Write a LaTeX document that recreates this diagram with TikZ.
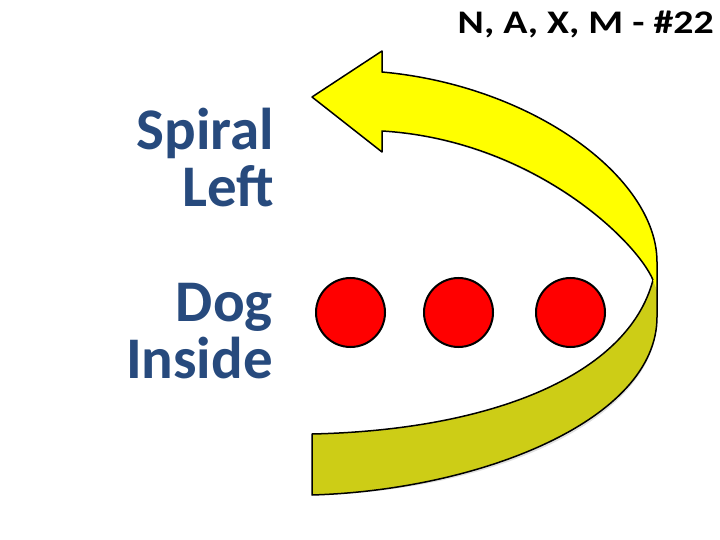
\documentclass[tikz,border=0pt]{standalone}
\usepackage{fontspec}
\setmainfont{Carlito}
\usepackage{graphicx}
\definecolor{txtblue}{RGB}{39,74,125}
\definecolor{brightyel}{RGB}{255,255,0}
\definecolor{darkyel}{RGB}{205,205,22}
\tikzset{
  lbl/.style={text=txtblue, font=\fontsize{59}{57}\selectfont\bfseries, align=right, inner sep=0pt},
  dot/.style={circle, minimum size=69pt, inner sep=0pt, fill=red, draw=black, line width=2pt},
  ribbon/.style={draw=black, line width=1.5pt, line join=round},
  shade/.style={fill=black, opacity=0.12}
}
\begin{document}
\begin{tikzpicture}[x=1pt,y=-1pt]
\useasboundingbox (0,0) rectangle (720,540);
\coordinate (bl) at (312,495);
\coordinate (tl) at (312,434);
\coordinate (J) at (653,280);
\coordinate (rj) at (657,290);
\coordinate (rb) at (657,317);
\coordinate (rt) at (657,262);
\coordinate (hb) at (382,131);
\coordinate (hbb) at (382,152);
\coordinate (tip) at (312,97);
\coordinate (htt) at (382,51);
\coordinate (ht) at (382,72);
% soft shadows
\begin{scope}[shift={(2,3)}]
\fill[shade] (rj) -- (rb) .. controls (657,420) and (480,490) .. (bl) -- (tl) .. controls (492,430) and (628,375) .. (J) -- cycle;
\fill[shade] (J) .. controls (636,240) and (532,140) .. (hb) -- (hbb) -- (tip) -- (htt) -- (ht) .. controls (532,85.5) and (657,177) .. (rt) -- (rj) -- cycle;
\end{scope}
% back band
\filldraw[ribbon, fill=darkyel] (rj) -- (rb) .. controls (657,420) and (480,490) .. (bl) -- (tl) .. controls (492,430) and (628,375) .. (J);
% front arrow
\filldraw[ribbon, fill=brightyel] (J) .. controls (636,240) and (532,140) .. (hb) -- (hbb) -- (tip) -- (htt) -- (ht) .. controls (532,85.5) and (657,177) .. (rt) -- (rj);
% texts
\node[anchor=base east, font=\bfseries, inner sep=0pt] (title) at (714,33.5) {\resizebox{256pt}{22.5pt}{N, A, X, M - \#22}};
\node[lbl, anchor=base east] (spiral) at (274,207) {Spiral\\Left};
\node[lbl, anchor=base east] (dog) at (273,378) {Dog\\Inside};
% dots
\node[dot] (c1) at (350.5,312.5) {};
\node[dot] (c2) at (458.5,312.5) {};
\node[dot] (c3) at (570.5,312.5) {};
\end{tikzpicture}
\end{document}
